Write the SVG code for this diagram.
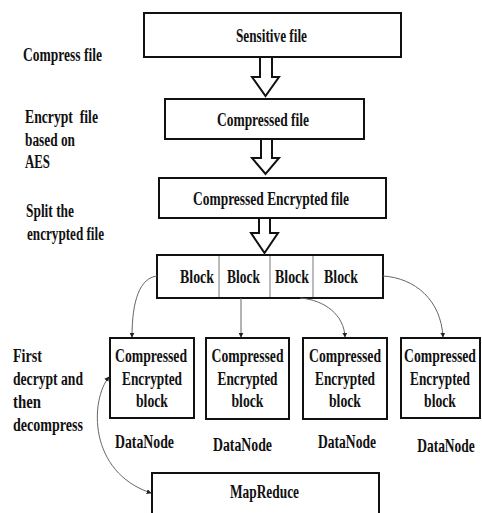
<svg xmlns="http://www.w3.org/2000/svg" width="482" height="513" viewBox="0 0 482 513">
<style>
text{font-family:"Liberation Serif","Times New Roman",serif;font-weight:bold;font-size:18px;fill:#111}
.m{text-anchor:middle}
.n{font-size:19px}
.box{fill:#fff;stroke:#111;stroke-width:2}
.harrow{fill:#fff;stroke:#111;stroke-width:2;stroke-linejoin:miter}
.div{stroke:#777;stroke-width:1}
.con{fill:none;stroke:#666;stroke-width:1}
</style>
<defs>
<marker id="ah" viewBox="0 0 8 8" refX="7" refY="4" markerWidth="5" markerHeight="5" orient="auto-start-reverse" markerUnits="userSpaceOnUse">
<path d="M0,0 L8,4 L0,8 z" fill="#222"/>
</marker>
</defs>
<g id="labels">
<text x="23" y="61" textLength="79" lengthAdjust="spacingAndGlyphs">Compress file</text>
<text x="25" y="123" textLength="73" lengthAdjust="spacingAndGlyphs" xml:space="preserve">Encrypt  file</text>
<text x="25" y="146" textLength="50" lengthAdjust="spacingAndGlyphs">based on</text>
<text x="25" y="168" textLength="25" lengthAdjust="spacingAndGlyphs">AES</text>
<text x="26" y="217" textLength="48" lengthAdjust="spacingAndGlyphs">Split the</text>
<text x="27" y="240" textLength="77" lengthAdjust="spacingAndGlyphs">encrypted file</text>
<text x="13" y="362" textLength="29" lengthAdjust="spacingAndGlyphs">First</text>
<text x="13" y="385" textLength="70" lengthAdjust="spacingAndGlyphs">decrypt and</text>
<text x="13" y="408" textLength="28" lengthAdjust="spacingAndGlyphs">then</text>
<text x="13" y="431" textLength="70" lengthAdjust="spacingAndGlyphs">decompress</text>
</g>
<g id="sensitive">
<rect class="box" x="144" y="13" width="257" height="44"/>
<text class="m" x="271.5" y="42" textLength="71" lengthAdjust="spacingAndGlyphs">Sensitive file</text>
</g>
<g id="compressed">
<rect class="box" x="165" y="99" width="199" height="40"/>
<text class="m" x="263" y="126" textLength="92" lengthAdjust="spacingAndGlyphs">Compressed file</text>
</g>
<g id="compressedEncrypted">
<rect class="box" x="159" y="178" width="227" height="40"/>
<text class="m" x="271" y="205" textLength="156" lengthAdjust="spacingAndGlyphs">Compressed Encrypted file</text>
</g>
<g id="blocks">
<rect class="box" x="157" y="255" width="226" height="43"/>
<line class="div" x1="219" y1="256" x2="219" y2="297"/>
<line class="div" x1="270" y1="256" x2="270" y2="297"/>
<line class="div" x1="313" y1="256" x2="313" y2="297"/>
<text class="m" x="197" y="283" textLength="34" lengthAdjust="spacingAndGlyphs">Block</text>
<text class="m" x="243.5" y="283" textLength="33" lengthAdjust="spacingAndGlyphs">Block</text>
<text class="m" x="292" y="283" textLength="34" lengthAdjust="spacingAndGlyphs">Block</text>
<text class="m" x="341" y="283" textLength="34" lengthAdjust="spacingAndGlyphs">Block</text>
</g>
<g id="dn1">
<rect class="box" x="110" y="338" width="84" height="80"/>
<text class="m n" x="151" y="362" textLength="72" lengthAdjust="spacingAndGlyphs">Compressed</text>
<text class="m n" x="152" y="385" textLength="60" lengthAdjust="spacingAndGlyphs">Encrypted</text>
<text class="m n" x="152" y="407" textLength="32" lengthAdjust="spacingAndGlyphs">block</text>
<text class="m" x="144.5" y="448" textLength="59" lengthAdjust="spacingAndGlyphs">DataNode</text>
</g>
<g id="dn2">
<rect class="box" x="206" y="338" width="83" height="81"/>
<text class="m n" x="247.5" y="362" textLength="72" lengthAdjust="spacingAndGlyphs">Compressed</text>
<text class="m n" x="247.5" y="385" textLength="60" lengthAdjust="spacingAndGlyphs">Encrypted</text>
<text class="m n" x="247.5" y="407" textLength="32" lengthAdjust="spacingAndGlyphs">block</text>
<text class="m" x="242.5" y="451" textLength="59" lengthAdjust="spacingAndGlyphs">DataNode</text>
</g>
<g id="dn3">
<rect class="box" x="303" y="338" width="84" height="81"/>
<text class="m n" x="345" y="362" textLength="72" lengthAdjust="spacingAndGlyphs">Compressed</text>
<text class="m n" x="345" y="385" textLength="60" lengthAdjust="spacingAndGlyphs">Encrypted</text>
<text class="m n" x="345" y="407" textLength="32" lengthAdjust="spacingAndGlyphs">block</text>
<text class="m" x="347" y="448" textLength="58" lengthAdjust="spacingAndGlyphs">DataNode</text>
</g>
<g id="dn4">
<rect class="box" x="401" y="338" width="79" height="80"/>
<text class="m n" transform="matrix(0.72 0 0 1 440 362)">Compressed</text>
<text class="m n" transform="matrix(0.70 0 0 1 440 385)">Encrypted</text>
<text class="m n" transform="matrix(0.72 0 0 1 440 407)">block</text>
<text class="m" transform="matrix(0.75 0 0 1 446 452)">DataNode</text>
</g>
<g id="mapreduce">
<rect class="box" x="152" y="473" width="227" height="50"/>
<text class="m" x="264.5" y="498" textLength="69" lengthAdjust="spacingAndGlyphs">MapReduce</text>
</g>
<g id="connectors">
<polygon class="harrow" points="260,57 272,57 272,77 279,77 265.5,96 252,77 260,77"/>
<polygon class="harrow" points="261,139 272,139 272,158 279,158 265.5,174 252,158 261,158"/>
<polygon class="harrow" points="259,218 270,218 270,233 278,233 264.5,253 251,233 259,233"/>
<path class="con" d="M157,276 C140,278 132,300 132,337" marker-end="url(#ah)"/>
<path class="con" d="M241,298 L241,337" marker-end="url(#ah)"/>
<path class="con" d="M300,298 C325,300 344,315 345,337" marker-end="url(#ah)"/>
<path class="con" d="M383,276 C415,278 441,300 443,337" marker-end="url(#ah)"/>
<path class="con" d="M109,377 C90,400 88,472 151,493" marker-start="url(#ah)" marker-end="url(#ah)"/>
</g>
</svg>
